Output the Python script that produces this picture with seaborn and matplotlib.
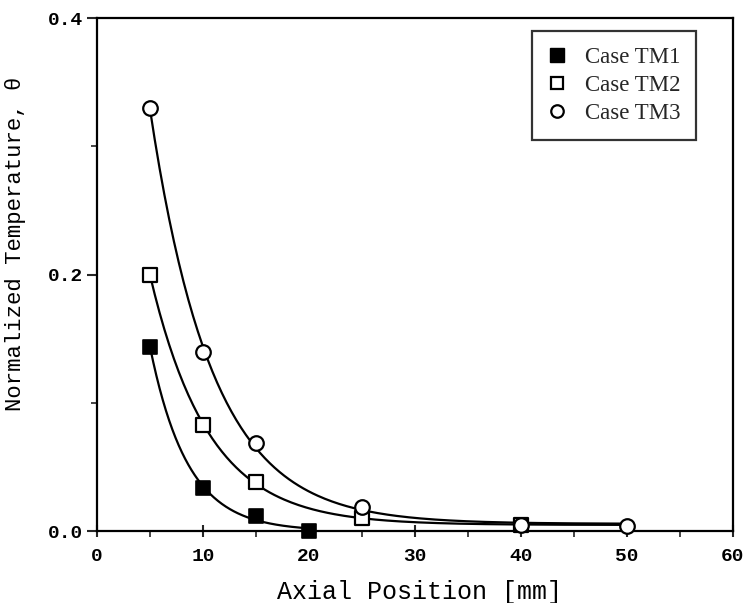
import numpy as np
import matplotlib
matplotlib.use("Agg")
import matplotlib.pyplot as plt
import seaborn as sns
from matplotlib.lines import Line2D

# data
tm1_x = [5, 10, 15, 20]
tm1_y = [0.144, 0.034, 0.012, 0.0]
tm2_x = [5, 10, 15, 25, 40]
tm2_y = [0.200, 0.083, 0.038, 0.010, 0.005]
tm3_x = [5, 10, 15, 25, 40, 50]
tm3_y = [0.330, 0.140, 0.069, 0.019, 0.005, 0.004]
curve_end = [20, 50, 50]
labels = ["Case TM1", "Case TM2", "Case TM3"]

sns.set_theme(style="white")
mono = ["Liberation Mono", "DejaVu Sans Mono"]
serif = ["Liberation Serif", "DejaVu Serif"]


def exp_fit(x, y, x_end):
    # y = a*exp(-b x) + c, grid search on b, linear least squares for a, c
    x = np.asarray(x, float)
    y = np.asarray(y, float)
    best = None
    for b in np.linspace(0.02, 0.6, 600):
        A = np.column_stack([np.exp(-b * x), np.ones_like(x)])
        coef, *_ = np.linalg.lstsq(A, y, rcond=None)
        err = np.sum((A @ coef - y) ** 2)
        if best is None or err < best[0]:
            best = (err, b, coef)
    _, b, (a, c) = best
    xs = np.linspace(x[0], x_end, 200)
    return xs, a * np.exp(-b * xs) + c


fig = plt.figure(figsize=(7.54, 6.03), dpi=100)
ax = fig.add_axes([0.1286, 0.119, 0.8435, 0.851])

series = [(tm1_x, tm1_y), (tm2_x, tm2_y), (tm3_x, tm3_y)]
for (x, y), xe in zip(series, curve_end):
    xs, ys = exp_fit(x, y, xe)
    sns.lineplot(x=xs, y=ys, ax=ax, color="black", linewidth=1.6, zorder=2)

sns.scatterplot(x=tm1_x, y=tm1_y, ax=ax, marker="s", s=110, color="black",
                edgecolor="black", linewidth=1.2, zorder=3, clip_on=False)
sns.scatterplot(x=tm2_x, y=tm2_y, ax=ax, marker="s", s=100, facecolor="white",
                edgecolor="black", linewidth=1.6, zorder=3, clip_on=False)
sns.scatterplot(x=tm3_x, y=tm3_y, ax=ax, marker="o", s=110, facecolor="white",
                edgecolor="black", linewidth=1.6, zorder=3, clip_on=False)

ax.set_xlim(0, 60)
ax.set_ylim(0, 0.4)
ax.set_xticks(range(0, 61, 10))
ax.set_xticks(range(5, 60, 10), minor=True)
ax.set_yticks([0.0, 0.2, 0.4])
ax.set_yticks([0.1, 0.3], minor=True)
ax.set_xticklabels([str(v) for v in range(0, 61, 10)])
ax.set_yticklabels(["0.0", "0.2", "0.4"])

for sp in ax.spines.values():
    sp.set_color("black")
    sp.set_linewidth(1.6)

ax.tick_params(axis="x", which="major", direction="inout", length=8, width=1.5,
               bottom=True, pad=8)
ax.tick_params(axis="x", which="minor", direction="out", length=4, width=1.2, bottom=True)
ax.tick_params(axis="y", which="major", direction="out", length=7, width=1.5,
               left=True, pad=3)
ax.tick_params(axis="y", which="minor", direction="out", length=4, width=1.2, left=True)
for t in ax.get_xticklabels() + ax.get_yticklabels():
    t.set_fontfamily(mono)
    t.set_fontsize(14)
    t.set_fontweight("bold")
    t.set_color("black")

ax.set_xlabel("Axial Position [mm]", fontfamily=mono, fontsize=18, color="black")
ax.set_ylabel("Normalized Temperature, θ", fontfamily=mono, fontsize=16, color="black")
ax.xaxis.set_label_coords(0.507, -0.095)
ax.yaxis.set_label_coords(-0.112, 0.56)

handles = [
    Line2D([], [], linestyle="none", marker="s", markersize=10, markerfacecolor="black",
           markeredgecolor="black"),
    Line2D([], [], linestyle="none", marker="s", markersize=9, markerfacecolor="white",
           markeredgecolor="black", markeredgewidth=1.6),
    Line2D([], [], linestyle="none", marker="o", markersize=9, markerfacecolor="white",
           markeredgecolor="black", markeredgewidth=1.6),
]
leg = ax.legend(handles, labels, loc="upper left", bbox_to_anchor=(0.684, 0.975),
                borderaxespad=0, frameon=True, fancybox=False, handletextpad=0.8,
                handlelength=0.8, labelspacing=0.3, borderpad=0.7,
                prop={"family": serif, "size": 16.5})
leg.get_frame().set_edgecolor("black")
leg.get_frame().set_linewidth(1.6)

fig.savefig("out.png", dpi=100)
